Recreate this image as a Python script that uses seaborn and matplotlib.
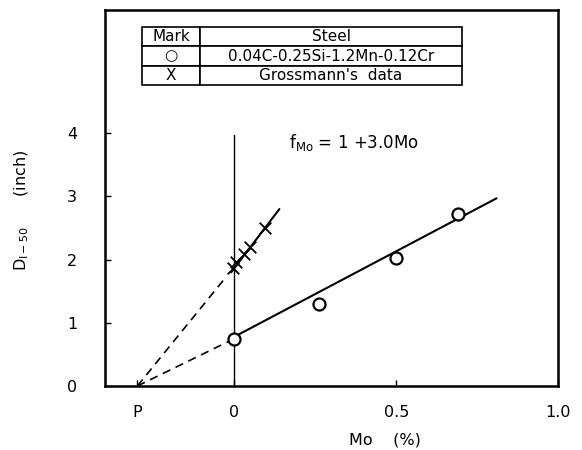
import matplotlib
matplotlib.use("Agg")
import matplotlib.pyplot as plt
import seaborn as sns

# Measured points
mo_circle = [0.0, 0.26, 0.50, 0.69]
d_circle = [0.75, 1.30, 2.02, 2.72]
mo_cross = [-0.005, 0.006, 0.031, 0.048, 0.096]
d_cross = [1.87, 1.96, 2.09, 2.20, 2.50]

# Fitted lines and their back-extrapolation to the common point P
p_mo = -0.30
circle_fit_mo = [0.0, 0.81]
circle_fit_d = [0.78, 2.97]
circle_ext_mo = [p_mo, -0.012]
circle_ext_d = [0.0, 0.72]
cross_fit_mo = [-0.01, 0.139]
cross_fit_d = [1.80, 2.80]
cross_ext_mo = [p_mo, -0.03]
cross_ext_d = [0.0, 1.70]
zero_line_mo = [0.0, 0.0]
zero_line_d = [0.0, 3.97]

x_ticks = [p_mo, 0.0, 0.5, 1.0]
x_ticklabels = ["P", "0", "0.5", "1.0"]
y_ticks = [0, 1, 2, 3, 4]

table_rows = [["Mark", "Steel"],
              ["○", "0.04C-0.25Si-1.2Mn-0.12Cr"],
              ["X", "Grossmann's  data"]]

sns.set_style("ticks")
plt.rcParams["font.family"] = ["DejaVu Sans"]
plt.rcParams.update({"text.color": "black", "axes.labelcolor": "black",
                     "xtick.color": "black", "ytick.color": "black",
                     "axes.edgecolor": "black"})

fig = plt.figure(figsize=(5.82, 4.5), dpi=100)
ax = fig.add_axes([105 / 582, 64 / 450, 453 / 582, 376 / 450])

line_kw = dict(color="black", sort=False, estimator=None, ax=ax, legend=False)
sns.lineplot(x=zero_line_mo, y=zero_line_d, lw=1.0, **line_kw)
sns.lineplot(x=circle_fit_mo, y=circle_fit_d, lw=1.5, **line_kw)
sns.lineplot(x=cross_fit_mo, y=cross_fit_d, lw=1.5, **line_kw)
for xs, ys in [(circle_ext_mo, circle_ext_d), (cross_ext_mo, cross_ext_d)]:
    l = sns.lineplot(x=xs, y=ys, lw=1.2, **line_kw).lines[-1]
    l.set_dashes([5, 3.5])

sns.scatterplot(x=mo_circle, y=d_circle, marker="o", s=75, facecolor="white",
                edgecolor="black", linewidth=1.6, ax=ax, zorder=5)
sns.scatterplot(x=mo_cross, y=d_cross, marker="x", s=70, color="black",
                linewidth=1.3, ax=ax, zorder=5)

ax.set_xlim(-0.40, 1.0)
ax.set_ylim(0, 5.95)
ax.set_xticks(x_ticks)
ax.set_xticklabels(x_ticklabels)
ax.set_yticks(y_ticks)
ax.tick_params(direction="in", length=4, width=1.0, labelsize=11.5,
               colors="black")
ax.tick_params(axis="y", pad=20)
ax.tick_params(axis="x", pad=14)
for s in ax.spines.values():
    s.set_visible(True)
    s.set_linewidth(1.8)
    s.set_edgecolor("black")

ax.text(0.17, 3.85, r"f$_{\mathregular{Mo}}$ = 1 +3.0Mo", fontsize=12,
        ha="left", va="center", color="black")

tbl = ax.table(cellText=table_rows, cellLoc="center",
               colWidths=[0.2, 0.8],
               bbox=[0.082, 0.80, 0.706, 0.155])
tbl.auto_set_font_size(False)
tbl.set_fontsize(11)
for (r, c), cell in tbl.get_celld().items():
    cell.set_linewidth(1.2)
    cell.set_edgecolor("black")
    cell.get_text().set_color("black")
for r in range(3):
    tbl[(r, 0)].set_width((200 - 142) / 453)
    tbl[(r, 1)].set_width((462 - 200) / 453)

fig.text(22 / 582, 1 - 210 / 450, r"$\mathregular{D_{I-50}}$      (inch)",
         rotation=90, ha="center", va="center", fontsize=11.5, color="black")
fig.text(385 / 582, 1 - 440 / 450, "Mo    (%)", ha="center", va="center",
         fontsize=11.5, color="black")

fig.savefig("out.png", dpi=100)
